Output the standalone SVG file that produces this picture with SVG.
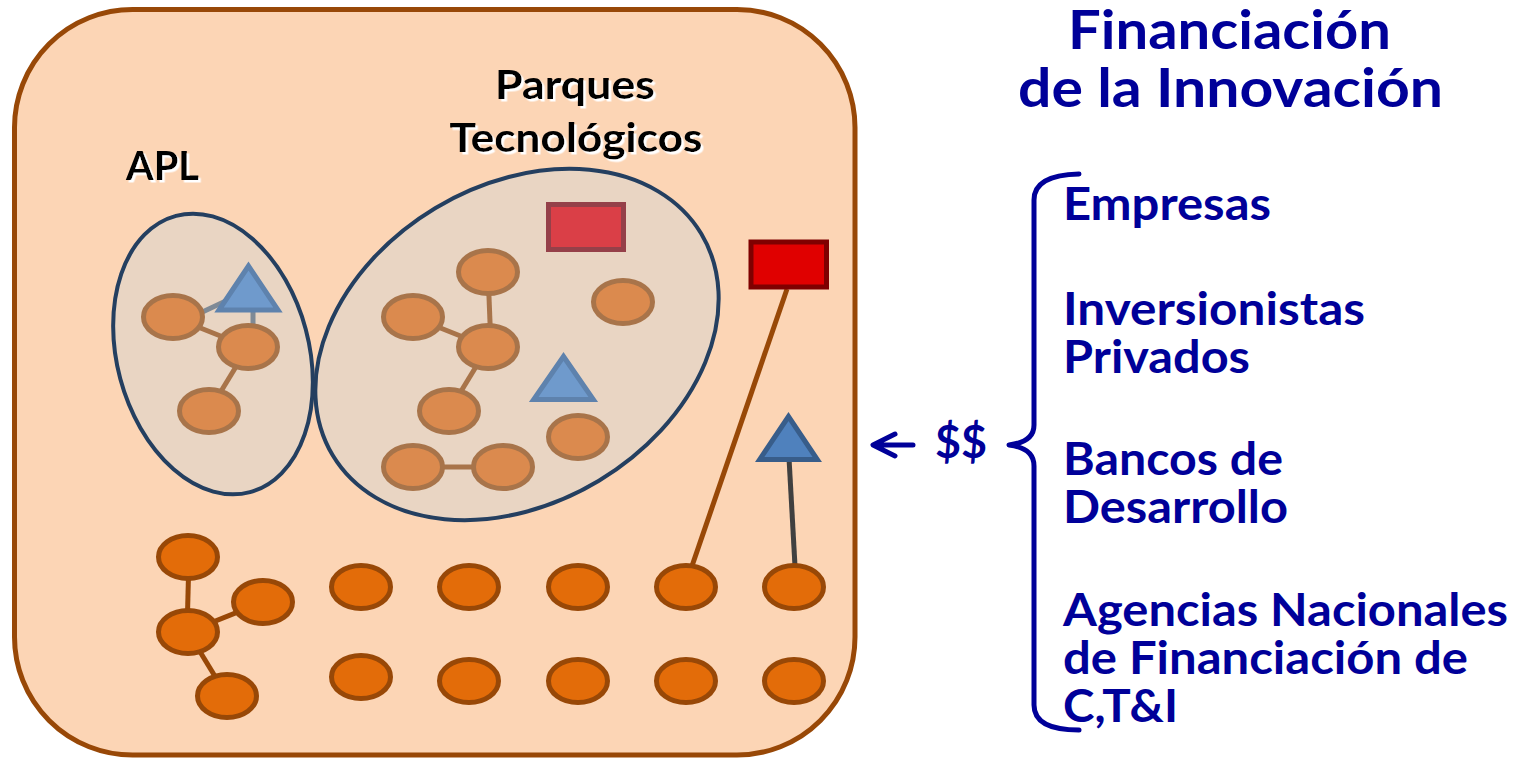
<svg xmlns="http://www.w3.org/2000/svg" width="1529" height="758" viewBox="0 0 1529 758">
<defs>
<style>
.lbl{font-family:Lato,"Liberation Sans",sans-serif;font-weight:bold;font-size:40px;fill:#000}
.ttl{font-family:Lato,"Liberation Sans",sans-serif;font-weight:bold;font-size:54px;fill:#000099}
.txt{font-family:Lato,"Liberation Sans",sans-serif;font-weight:bold;font-size:46px;fill:#000099}
.cl{fill:#E9D5C3;stroke:#243F60;stroke-width:4}
.ic{fill:#DB8A4E;stroke:#A8744A;stroke-width:5}
.oc{fill:#E36C09;stroke:#984807;stroke-width:5}
.ie{stroke:#A8744A;stroke-width:5;fill:none}
.ge{stroke:#7F8A96;stroke-width:5;fill:none}
.oe{stroke:#984807;stroke-width:5;fill:none}
.de{stroke:#404040;stroke-width:5;fill:none}
.itri{fill:#6F9ACC;stroke:#5E82AD;stroke-width:5}
.otri{fill:#4F81BD;stroke:#385D8A;stroke-width:5}
.irect{fill:#DA3F47;stroke:#954049;stroke-width:5}
.orect{fill:#E00000;stroke:#7F0000;stroke-width:5}
.blue{stroke:#000099;stroke-width:5;fill:none;stroke-linecap:round;stroke-linejoin:round}
</style>
<filter id="sh" x="-10%" y="-20%" width="130%" height="150%">
<feDropShadow dx="2.5" dy="2.5" stdDeviation="0.4" flood-color="#FFFFFF" flood-opacity="1"/>
</filter>
</defs>

<g id="container">
<rect x="14.5" y="9.5" width="840.5" height="745.5" rx="118" ry="118" fill="#FCD5B5" stroke="#984807" stroke-width="5"/>
</g>

<g id="cluster-apl">
<ellipse class="cl" cx="213" cy="354" rx="96" ry="143" transform="rotate(-15 213 354)"/>
<text class="lbl" x="126" y="180" textLength="73" lengthAdjust="spacingAndGlyphs" filter="url(#sh)">APL</text>
</g>

<g id="cluster-parques">
<ellipse class="cl" cx="517" cy="344.5" rx="215" ry="159" transform="rotate(-31 517 344.5)"/>
<text class="lbl" x="575" y="98.5" text-anchor="middle" textLength="160" lengthAdjust="spacingAndGlyphs" filter="url(#sh)">Parques</text>
<text class="lbl" x="576" y="152" text-anchor="middle" textLength="253" lengthAdjust="spacingAndGlyphs" filter="url(#sh)">Tecnológicos</text>
</g>

<g id="connectors">
<line class="ie" x1="173" y1="317" x2="248" y2="347"/>
<line class="ie" x1="248" y1="347" x2="209" y2="411"/>
<line class="ge" x1="195" y1="315.5" x2="230" y2="299"/>
<line class="ge" x1="253" y1="305" x2="253" y2="330"/>
<line class="ie" x1="488" y1="272" x2="491" y2="347"/>
<line class="ie" x1="413" y1="317" x2="488" y2="347"/>
<line class="ie" x1="488" y1="347" x2="449" y2="411"/>
<line class="ie" x1="413" y1="467" x2="503" y2="467"/>
<line class="oe" x1="189" y1="557" x2="187" y2="632"/>
<line class="oe" x1="188" y1="632" x2="263" y2="602"/>
<line class="oe" x1="188" y1="632" x2="227" y2="696"/>
<line class="oe" x1="787" y1="289" x2="692" y2="566"/>
<line class="de" x1="789" y1="458" x2="795" y2="566"/>
<path class="blue" d="M913,445 L874,445 M895,434 L873,445 L895,456"/>
<path class="blue" d="M1079,174 Q1034,175 1034,200 L1034,425 Q1034,442 1009,445 Q1034,448 1034,466 L1034,705 Q1034,730 1079,730"/>
</g>

<g id="apl-nodes">
<ellipse class="ic" cx="173" cy="317" rx="29.5" ry="21.5"/>
<ellipse class="ic" cx="248" cy="347" rx="29.5" ry="21.5"/>
<ellipse class="ic" cx="209" cy="411" rx="29.5" ry="21.5"/>
<polygon class="itri" points="248.5,266 219,310 278,310"/>
</g>

<g id="parques-nodes">
<rect class="irect" x="548.5" y="204.5" width="75" height="45"/>
<ellipse class="ic" cx="488" cy="272" rx="29.5" ry="21.5"/>
<ellipse class="ic" cx="413" cy="317" rx="29.5" ry="21.5"/>
<ellipse class="ic" cx="488" cy="347" rx="29.5" ry="21.5"/>
<ellipse class="ic" cx="449" cy="411" rx="29.5" ry="21.5"/>
<ellipse class="ic" cx="413" cy="467" rx="29.5" ry="21.5"/>
<ellipse class="ic" cx="503" cy="467" rx="29.5" ry="21.5"/>
<ellipse class="ic" cx="623" cy="302" rx="29.5" ry="21.5"/>
<ellipse class="ic" cx="578" cy="437" rx="29.5" ry="21.5"/>
<polygon class="itri" points="563.5,356.5 533.7,399.5 593.3,399.5"/>
</g>

<g id="free-rect"><rect class="orect" x="751" y="242" width="75.5" height="45"/></g>
<g id="free-triangle"><polygon class="otri" points="788.5,416.5 759.7,459.5 817.3,459.5"/></g>

<g id="tree-nodes">
<ellipse class="oc" cx="188" cy="557" rx="29.5" ry="21.5"/>
<ellipse class="oc" cx="188" cy="632" rx="29.5" ry="21.5"/>
<ellipse class="oc" cx="263" cy="602" rx="29.5" ry="21.5"/>
<ellipse class="oc" cx="227" cy="696" rx="29.5" ry="21.5"/>
</g>

<g id="row1">
<ellipse class="oc" cx="361" cy="587" rx="29.5" ry="21.5"/>
<ellipse class="oc" cx="469" cy="587" rx="29.5" ry="21.5"/>
<ellipse class="oc" cx="578" cy="587" rx="29.5" ry="21.5"/>
<ellipse class="oc" cx="686" cy="587" rx="29.5" ry="21.5"/>
<ellipse class="oc" cx="794" cy="587" rx="29.5" ry="21.5"/>
</g>
<g id="row2">
<ellipse class="oc" cx="361" cy="677" rx="29.5" ry="21.5"/>
<ellipse class="oc" cx="469" cy="681" rx="29.5" ry="21.5"/>
<ellipse class="oc" cx="578" cy="681" rx="29.5" ry="21.5"/>
<ellipse class="oc" cx="686" cy="681" rx="29.5" ry="21.5"/>
<ellipse class="oc" cx="794" cy="681" rx="29.5" ry="21.5"/>
</g>

<g id="title">
<text class="ttl" x="1229.5" y="49" text-anchor="middle" textLength="323" lengthAdjust="spacingAndGlyphs">Financiación</text>
<text class="ttl" x="1230.5" y="107" text-anchor="middle" textLength="425" lengthAdjust="spacingAndGlyphs">de la Innovación</text>
</g>

<g id="money">
<text class="txt" x="935" y="458" textLength="52" lengthAdjust="spacingAndGlyphs">$$</text>
</g>

<g id="sources">
<text class="txt" x="1063" y="220" textLength="208" lengthAdjust="spacingAndGlyphs">Empresas</text>
<text class="txt" x="1063" y="325" textLength="302" lengthAdjust="spacingAndGlyphs">Inversionistas</text>
<text class="txt" x="1063" y="373" textLength="187" lengthAdjust="spacingAndGlyphs">Privados</text>
<text class="txt" x="1063" y="475" textLength="220" lengthAdjust="spacingAndGlyphs">Bancos de</text>
<text class="txt" x="1063" y="523" textLength="225" lengthAdjust="spacingAndGlyphs">Desarrollo</text>
<text class="txt" x="1063" y="626" textLength="445" lengthAdjust="spacingAndGlyphs">Agencias Nacionales</text>
<text class="txt" x="1063" y="674" textLength="405" lengthAdjust="spacingAndGlyphs">de Financiación de</text>
<text class="txt" x="1063" y="722" textLength="115" lengthAdjust="spacingAndGlyphs">C,T&amp;I</text>
</g>
</svg>
